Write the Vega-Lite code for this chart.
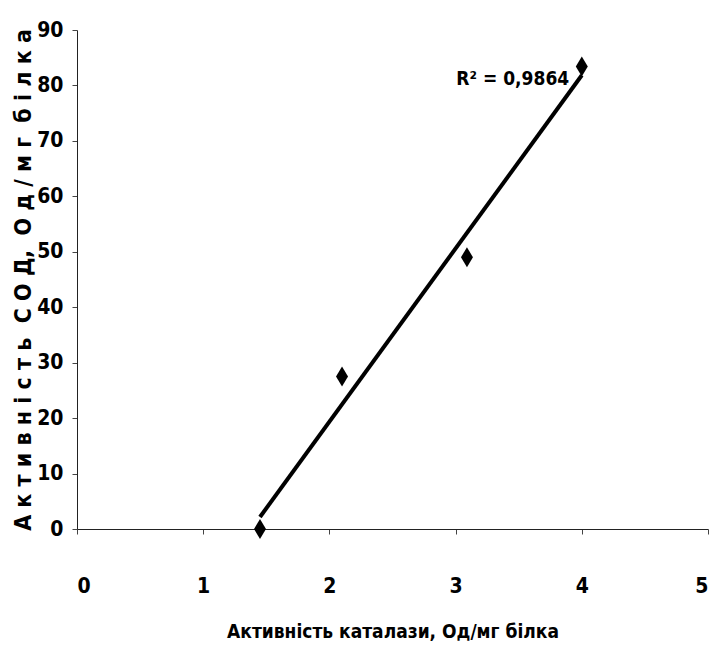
{
  "$schema": "https://vega.github.io/schema/vega-lite/v6.json",
  "autosize": "none",
  "width": 631,
  "height": 499,
  "padding": {"left": 77, "top": 30, "right": 12, "bottom": 129},
  "background": "white",
  "config": {
    "view": {"stroke": null},
    "axis": {
      "labelFont": "DejaVu Sans Condensed, Liberation Sans Narrow, sans-serif",
      "labelFontSize": 21,
      "labelFontWeight": "bold",
      "labelColor": "black",
      "titleFont": "DejaVu Sans Condensed, Liberation Sans Narrow, sans-serif",
      "titleFontWeight": "bold",
      "titleColor": "black",
      "domainColor": "#222",
      "tickColor": "#444",
      "tickSize": 5,
      "grid": false
    }
  },
  "data": {
    "values": [
      {"catalase": 1.45, "sod": 0},
      {"catalase": 2.1, "sod": 27.5},
      {"catalase": 3.09, "sod": 49},
      {"catalase": 4.0, "sod": 83.4}
    ]
  },
  "layer": [
    {
      "transform": [{"regression": "sod", "on": "catalase", "extent": [1.45, 4.0]}],
      "mark": {"type": "line", "color": "black", "strokeWidth": 4},
      "encoding": {
        "x": {"field": "catalase", "type": "quantitative"},
        "y": {"field": "sod", "type": "quantitative"}
      }
    },
    {
      "mark": {"type": "point", "shape": "M0,-1L0.6,0L0,1L-0.6,0Z", "filled": true, "color": "black", "opacity": 1, "size": 400},
      "encoding": {
        "x": {
          "field": "catalase", "type": "quantitative",
          "scale": {"domain": [0, 5], "nice": false, "zero": false},
          "axis": {"values": [0, 1, 2, 3, 4, 5], "format": "d", "title": "Активність каталази, Од/мг білка", "titleFontSize": 19, "labelPadding": 41, "titlePadding": 26, "labelBaseline": "top"}
        },
        "y": {
          "field": "sod", "type": "quantitative",
          "scale": {"domain": [0, 90], "nice": false},
          "axis": {"values": [0, 10, 20, 30, 40, 50, 60, 70, 80, 90], "format": "d", "title": "А к т и в н і с т ь\u00a0 С О Д,\u00a0 О д / м г\u00a0 б і л к а", "titleFontSize": 23, "labelPadding": 9, "titlePadding": 1}
        }
      }
    },
    {
      "data": {"values": [{"catalase": 3.9, "sod": 81.2, "label": "R² = 0,9864"}]},
      "mark": {"type": "text", "align": "right", "baseline": "middle", "font": "DejaVu Sans Condensed, Liberation Sans Narrow, sans-serif", "fontWeight": "bold", "fontSize": 19, "color": "black"},
      "encoding": {
        "x": {"field": "catalase", "type": "quantitative"},
        "y": {"field": "sod", "type": "quantitative"},
        "text": {"field": "label"}
      }
    }
  ]
}
